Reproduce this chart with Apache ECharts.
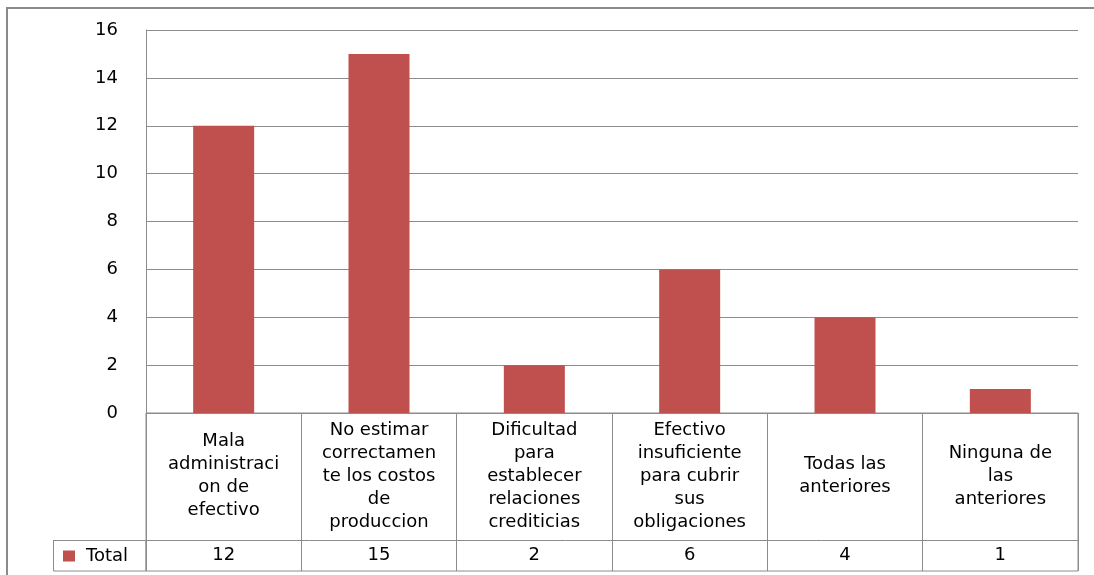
<!DOCTYPE html>
<html>
<head>
<meta charset="utf-8">
<script src="https://cdn.jsdelivr.net/npm/echarts@6/dist/echarts.min.js"></script>
<style>
  html, body { margin: 0; padding: 0; background: #fff; }
  #chart { width: 1094px; height: 575px; }
</style>
</head>
<body>
<div id="chart"></div>
<script>
const categories = [
  'Mala\nadministraci\non de\nefectivo',
  'No estimar\ncorrectamen\nte los costos\nde\nproduccion',
  'Dificultad\npara\nestablecer\nrelaciones\ncrediticias',
  'Efectivo\ninsuficiente\npara cubrir\nsus\nobligaciones',
  'Todas las\nanteriores',
  'Ninguna de\nlas\nanteriores'
];
const totals = [12, 15, 2, 6, 4, 1];
const yTicks = { min: 0, max: 16, step: 2 };
const seriesName = 'Total';

const font = '"DejaVu Sans", Verdana, sans-serif';
const lineColor = '#8c8c8c';

const chartDom = document.getElementById('chart');
const myChart = echarts.init(chartDom);

const option = {
  animation: false,
  textStyle: { fontFamily: font },
  grid: [
    { left: 146, right: 16, top: 30, height: 383 },
    { left: 146, right: 16, top: 413, height: 158, show: true, borderColor: lineColor, borderWidth: 1 }
  ],
  legend: {
    left: 58, top: 547, padding: [0, 5],
    icon: 'rect', itemWidth: 12, itemHeight: 11, itemGap: 8,
    textStyle: { fontSize: 18, color: '#000', fontFamily: font, padding: [0, 0, 0, 6] },
    data: [seriesName]
  },
  xAxis: [
    {
      type: 'category', gridIndex: 0, data: categories,
      axisLine: { show: false }, axisTick: { show: false },
      axisLabel: {
        interval: 0, margin: 63, verticalAlign: 'middle',
        fontSize: 18, lineHeight: 23, color: '#000', fontFamily: font
      }
    },
    {
      type: 'category', gridIndex: 1, data: totals.map(String),
      axisLine: { show: false }, axisTick: { show: false },
      splitLine: { show: true, interval: 0, lineStyle: { color: lineColor, width: 1 } },
      axisLabel: {
        inside: true, interval: 0, margin: 16, verticalAlign: 'middle',
        fontSize: 18, color: '#000', fontFamily: font
      }
    }
  ],
  yAxis: [
    {
      type: 'value', gridIndex: 0,
      min: yTicks.min, max: yTicks.max, interval: yTicks.step,
      axisLine: { show: true, lineStyle: { color: lineColor } },
      axisTick: { show: false },
      splitLine: { lineStyle: { color: lineColor, width: 1 } },
      axisLabel: { margin: 28, fontSize: 18, color: '#000', fontFamily: font }
    },
    {
      type: 'value', gridIndex: 1, min: 0, max: 1,
      show: false
    }
  ],
  graphic: [
    { type: 'rect', shape: { x: 7, y: 8, width: 1120, height: 620 },
      style: { fill: 'none', stroke: '#8a8a8a', lineWidth: 2 } },
    { type: 'line', shape: { x1: 53, y1: 540.5, x2: 1078, y2: 540.5 },
      style: { stroke: lineColor, lineWidth: 1 } },
    { type: 'rect', shape: { x: 53.5, y: 540.5, width: 92.5, height: 30.5 },
      style: { fill: 'none', stroke: lineColor, lineWidth: 1 } }
  ],
  series: [
    {
      name: seriesName, type: 'bar', xAxisIndex: 0, yAxisIndex: 0,
      data: totals, barWidth: 61,
      itemStyle: { color: '#c0504d' }
    }
  ]
};

option && myChart.setOption(option);
</script>
</body>
</html>
